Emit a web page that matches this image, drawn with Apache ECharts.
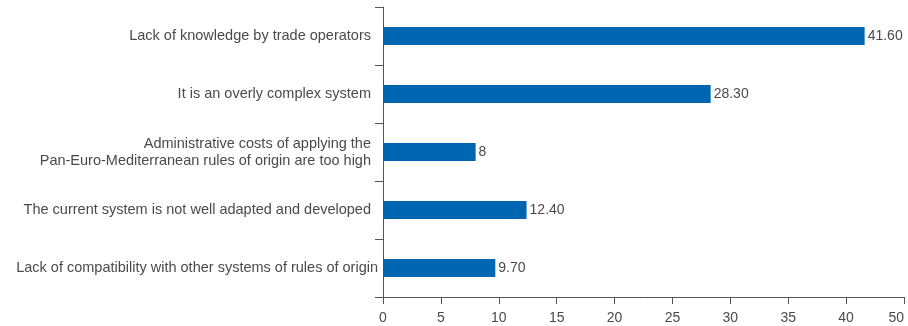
<!DOCTYPE html>
<html>
<head>
<meta charset="utf-8">
<script src="https://cdn.jsdelivr.net/npm/echarts@6/dist/echarts.min.js"></script>
<style>
  html, body { margin: 0; padding: 0; background: #ffffff; }
  #chart { width: 908px; height: 326px; }
</style>
</head>
<body>
<div id="chart"></div>
<script>
// Survey answers, listed top to bottom
const categories = [
  'Lack of knowledge by trade operators',
  'It is an overly complex system',
  'Administrative costs of applying the\nPan-Euro-Mediterranean rules of origin are too high',
  'The current system is not well adapted and developed',
  'Lack of compatibility with other systems of rules of origin'
];
const values = [41.6, 28.3, 8, 12.4, 9.7];
const valueLabels = ['41.60', '28.30', '8', '12.40', '9.70'];

// Value-axis tick positions and the text printed under each
const tickValues = [0, 5, 10, 15, 20, 25, 30, 35, 40, 45];
const tickLabels = ['0', '5', '10', '15', '20', '25', '30', '35', '40', '50'];

const textColor = '#4a4a4a';
const axisColor = '#555555';
const fontFamily = '"Liberation Sans", Arial, Helvetica, sans-serif';

const chart = echarts.init(document.getElementById('chart'), null, { renderer: 'canvas' });

// The longest answer sits slightly closer to the axis than the others
const yData = categories.map(function (c, i) {
  return i === categories.length - 1
    ? { value: c, textStyle: { padding: [0, -7, 0, 0] } }
    : c;
});

chart.setOption({
  animation: false,
  backgroundColor: '#ffffff',
  grid: { left: 383, right: 4, top: 7, bottom: 29, containLabel: false },
  xAxis: {
    type: 'value',
    min: 0,
    max: 45,
    interval: 5,
    splitLine: { show: false },
    axisLine: { show: true, lineStyle: { color: axisColor, width: 1 } },
    axisTick: { show: true, length: 7, lineStyle: { color: axisColor } },
    axisLabel: {
      margin: 14,
      color: textColor,
      fontSize: 14,
      fontFamily: fontFamily,
      alignMaxLabel: 'right',
      formatter: function (v) {
        const i = tickValues.indexOf(v);
        return i >= 0 ? tickLabels[i] : '';
      }
    }
  },
  yAxis: {
    type: 'category',
    data: yData,
    inverse: true,
    axisLine: { show: true, lineStyle: { color: axisColor, width: 1 } },
    axisTick: { show: true, length: 8, lineStyle: { color: axisColor } },
    axisLabel: {
      margin: 12,
      color: textColor,
      fontSize: 14.5,
      lineHeight: 17,
      fontFamily: fontFamily
    },
    splitLine: { show: false }
  },
  series: [{
    type: 'bar',
    data: values,
    barWidth: 18,
    itemStyle: { color: '#0066b2' },
    label: {
      show: true,
      position: 'right',
      distance: 3,
      color: textColor,
      fontSize: 14,
      fontFamily: fontFamily,
      formatter: function (p) { return valueLabels[p.dataIndex]; }
    }
  }]
});
</script>
</body>
</html>
